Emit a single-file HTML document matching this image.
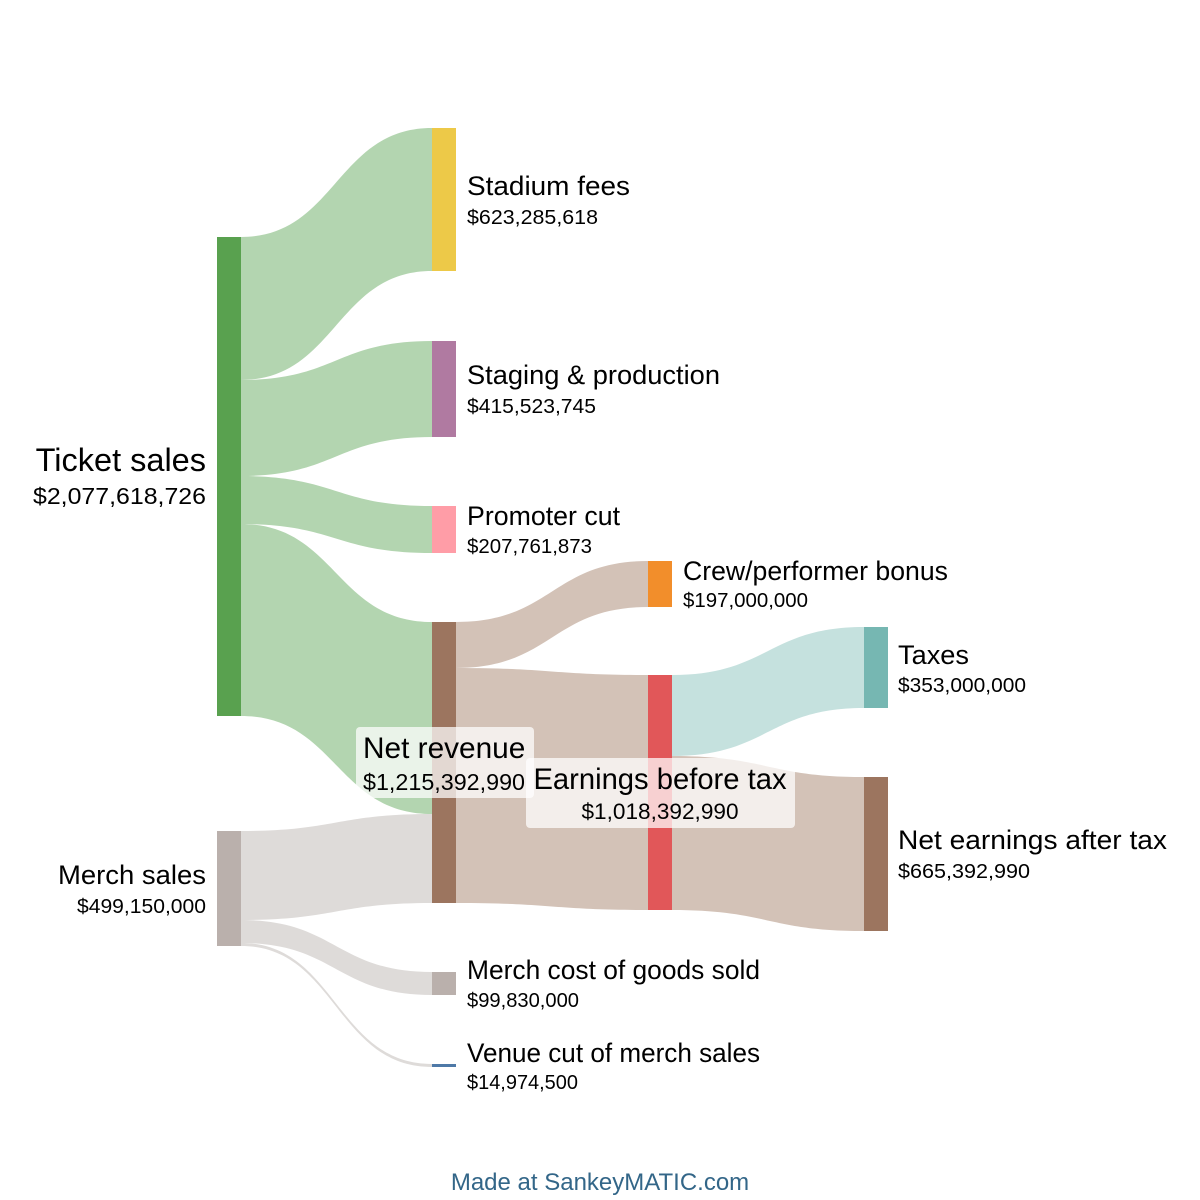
<!DOCTYPE html>
<html><head><meta charset="utf-8"><style>
html,body{margin:0;padding:0;background:#fff;width:1200px;height:1200px;overflow:hidden}
text{font-family:"Liberation Sans",Arial,sans-serif;fill:#000}
</style></head><body>
<svg width="1200" height="1200" viewBox="0 0 1200 1200" xmlns="http://www.w3.org/2000/svg">
<g>
<path d="M241 237 C336 237,336 128,432 128 L432 271 C336 271,336 380,241 380 Z" fill="#b3d5b0"/>
<path d="M241 380 C336 380,336 341,432 341 L432 437 C336 437,336 476,241 476 Z" fill="#b3d5b0"/>
<path d="M241 476 C336 476,336 506,432 506 L432 553 C336 553,336 524,241 524 Z" fill="#b3d5b0"/>
<path d="M241 524 C336 524,336 622,432 622 L432 814 C336 814,336 716,241 716 Z" fill="#b3d5b0"/>
<path d="M241 831 C336 831,336 814,432 814 L432 903 C336 903,336 920,241 920 Z" fill="#dedbd9"/>
<path d="M241 920 C336 920,336 972,432 972 L432 995 C336 995,336 943,241 943 Z" fill="#dedbd9"/>
<path d="M241 943 C336 943,336 1064,432 1064 L432 1067 C336 1067,336 946,241 946 Z" fill="#dedbd9"/>
<path d="M456 622 C552 622,552 561,648 561 L648 607 C552 607,552 668,456 668 Z" fill="#d3c2b7"/>
<path d="M456 668 C552 668,552 675,648 675 L648 910 C552 910,552 903,456 903 Z" fill="#d3c2b7"/>
<path d="M672 675 C768 675,768 627,864 627 L864 708 C768 708,768 756,672 756 Z" fill="#c5e1de"/>
<path d="M672 756 C768 756,768 777,864 777 L864 931 C768 931,768 910,672 910 Z" fill="#d3c2b7"/>
</g>
<g>
<rect x="217" y="237" width="24" height="479" fill="#59a14f"/>
<rect x="217" y="831" width="24" height="115" fill="#bab0ac"/>
<rect x="432" y="128" width="24" height="143" fill="#edc948"/>
<rect x="432" y="341" width="24" height="96" fill="#b07aa1"/>
<rect x="432" y="506" width="24" height="47" fill="#ff9da7"/>
<rect x="432" y="622" width="24" height="281" fill="#9c755f"/>
<rect x="432" y="972" width="24" height="23" fill="#bab0ac"/>
<rect x="432" y="1064" width="24" height="3" fill="#4e79a7"/>
<rect x="648" y="561" width="24" height="46" fill="#f28e2b"/>
<rect x="648" y="675" width="24" height="235" fill="#e15759"/>
<rect x="864" y="627" width="24" height="81" fill="#76b7b2"/>
<rect x="864" y="777" width="24" height="154" fill="#9c755f"/>
</g>
<g lengthAdjust="spacingAndGlyphs">
<text x="206" y="471" font-size="32.5" text-anchor="end">Ticket sales</text>
<text x="206" y="504" font-size="23" text-anchor="end" textLength="173" lengthAdjust="spacingAndGlyphs">$2,077,618,726</text>
<text x="206" y="884" font-size="27" text-anchor="end" textLength="148" lengthAdjust="spacingAndGlyphs">Merch sales</text>
<text x="206" y="913" font-size="20.5" text-anchor="end" textLength="129" lengthAdjust="spacingAndGlyphs">$499,150,000</text>
<text x="467" y="195" font-size="27" textLength="163" lengthAdjust="spacingAndGlyphs">Stadium fees</text>
<text x="467" y="224" font-size="20.5" textLength="131" lengthAdjust="spacingAndGlyphs">$623,285,618</text>
<text x="467" y="384" font-size="27" textLength="253" lengthAdjust="spacingAndGlyphs">Staging &amp; production</text>
<text x="467" y="413" font-size="20.5" textLength="129" lengthAdjust="spacingAndGlyphs">$415,523,745</text>
<text x="467" y="525" font-size="27" textLength="153" lengthAdjust="spacingAndGlyphs">Promoter cut</text>
<text x="467" y="553" font-size="20.5" textLength="125" lengthAdjust="spacingAndGlyphs">$207,761,873</text>
<text x="683" y="580" font-size="27" textLength="265" lengthAdjust="spacingAndGlyphs">Crew/performer bonus</text>
<text x="683" y="607" font-size="20.5" textLength="125" lengthAdjust="spacingAndGlyphs">$197,000,000</text>
<text x="898" y="664" font-size="27" textLength="71" lengthAdjust="spacingAndGlyphs">Taxes</text>
<text x="898" y="692" font-size="20.5" textLength="128" lengthAdjust="spacingAndGlyphs">$353,000,000</text>
<text x="898" y="849" font-size="27" textLength="269" lengthAdjust="spacingAndGlyphs">Net earnings after tax</text>
<text x="898" y="878" font-size="20.5" textLength="132" lengthAdjust="spacingAndGlyphs">$665,392,990</text>
<text x="467" y="979" font-size="27" textLength="293" lengthAdjust="spacingAndGlyphs">Merch cost of goods sold</text>
<text x="467" y="1007" font-size="20.5" textLength="112" lengthAdjust="spacingAndGlyphs">$99,830,000</text>
<text x="467" y="1062" font-size="27" textLength="293" lengthAdjust="spacingAndGlyphs">Venue cut of merch sales</text>
<text x="467" y="1089" font-size="20.5" textLength="111" lengthAdjust="spacingAndGlyphs">$14,974,500</text>
<rect x="356" y="727" width="178" height="71" rx="4" fill="#ffffff" fill-opacity="0.72"/>
<text x="363" y="758" font-size="29.8">Net revenue</text>
<text x="363" y="790" font-size="23" textLength="162" lengthAdjust="spacingAndGlyphs">$1,215,392,990</text>
<rect x="526" y="758" width="269" height="70" rx="4" fill="#ffffff" fill-opacity="0.72"/>
<text x="660" y="789" font-size="29.2" text-anchor="middle">Earnings before tax</text>
<text x="660" y="819" font-size="22.6" text-anchor="middle">$1,018,392,990</text>
<text x="600" y="1190" font-size="24" text-anchor="middle" style="fill:#336688">Made at SankeyMATIC.com</text>
</g>
</svg>
</body></html>
